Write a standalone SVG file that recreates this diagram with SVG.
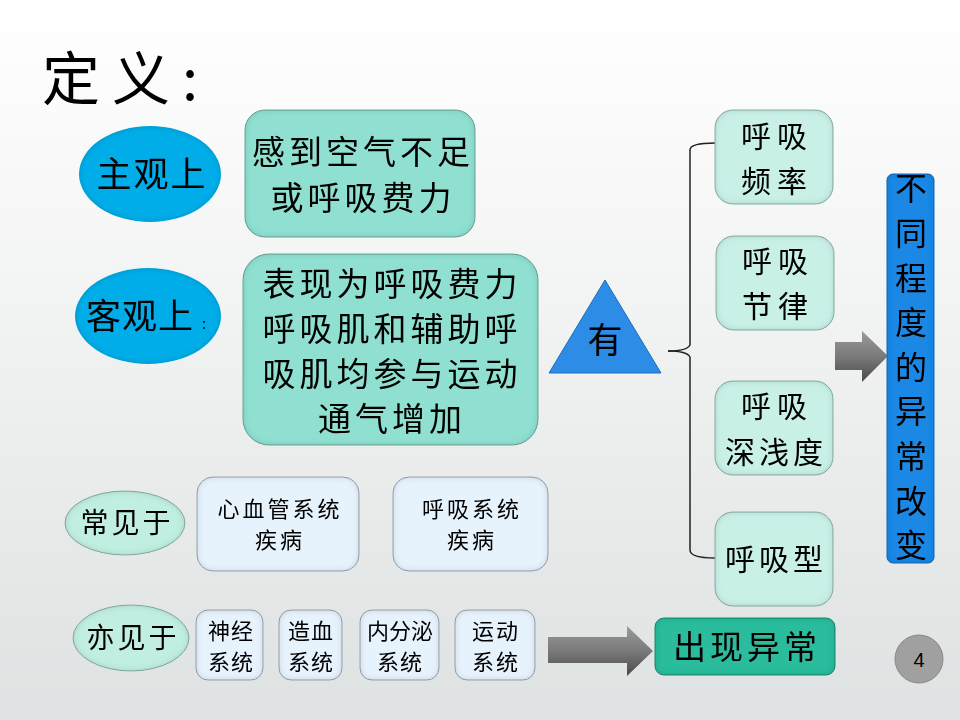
<svg xmlns="http://www.w3.org/2000/svg" width="960" height="720" viewBox="0 0 960 720">
<defs>
  <linearGradient id="bg" x1="0" y1="0" x2="0" y2="1">
    <stop offset="0" stop-color="#ffffff"/>
    <stop offset="0.15" stop-color="#fbfbfb"/>
    <stop offset="1" stop-color="#dfe2e2"/>
  </linearGradient>
  <linearGradient id="arrowG" x1="0" y1="0" x2="0" y2="1">
    <stop offset="0" stop-color="#9a9a9a"/>
    <stop offset="0.5" stop-color="#7a7a7a"/>
    <stop offset="1" stop-color="#4a4a4a"/>
  </linearGradient>
  <filter id="inner" x="-10%" y="-10%" width="120%" height="120%">
    <feGaussianBlur in="SourceAlpha" stdDeviation="3" result="blur"/>
    <feComposite in="SourceAlpha" in2="blur" operator="arithmetic" k2="1" k3="-1" result="edge"/>
    <feFlood flood-color="#000" flood-opacity="0.35"/>
    <feComposite in2="edge" operator="in" result="edgeC"/>
    <feMerge><feMergeNode in="SourceGraphic"/><feMergeNode in="edgeC"/></feMerge>
  </filter>
</defs>
<style>
  text { font-family: "Noto Sans CJK SC", "Liberation Serif", sans-serif; fill: #000; text-anchor: middle; }
  .big { font-size: 33px; letter-spacing: 4px; }
  .rb { font-size: 30px; letter-spacing: 6px; }
  .mid { font-size: 28px; letter-spacing: 3px; }
  .sm { font-size: 22px; letter-spacing: 3px; }
  .vt { font-size: 32px; }
  .teal { fill: #8fe0d0; stroke: #6aa89c; stroke-width: 1; }
  .lt { fill: #c8f0e7; stroke: #8ab0a8; stroke-width: 1; }
  .lb { fill: #e6f2fc; stroke: #9aa6b0; stroke-width: 1; }
  .ell { fill: #c0eee1; stroke: #8ab0a6; stroke-width: 1; }
  .blue { fill: #05ade8; }
  .arrow { fill: url(#arrowG); }
</style>
<rect x="0" y="0" width="960" height="720" fill="url(#bg)"/>

<g id="title">
  <text x="126" y="100" style="font-size:58px;letter-spacing:12px">定义:</text>
</g>

<g id="subjective" filter="url(#inner)">
  <ellipse cx="150" cy="174" rx="71" ry="48" class="blue"/>
  <text x="152" y="187" class="big" style="font-size:35px;letter-spacing:2px">主观上</text>
</g>

<g id="box-subjective" filter="url(#inner)">
  <rect x="245" y="110" width="230" height="127" rx="20" class="teal"/>
  <text x="363" y="164" class="big">感到空气不足</text>
  <text x="363" y="210" class="big">或呼吸费力</text>
</g>

<g id="objective" filter="url(#inner)">
  <ellipse cx="148" cy="316" rx="73" ry="48" class="blue"/>
  <text x="140" y="329" class="big" style="font-size:35px;letter-spacing:1px">客观上</text>
  <text x="204" y="329" style="font-size:14px">:</text>
</g>

<g id="box-objective" filter="url(#inner)">
  <rect x="243" y="254" width="295" height="191" rx="26" class="teal"/>
  <text x="392" y="296" class="big">表现为呼吸费力</text>
  <text x="392" y="341" class="big">呼吸肌和辅助呼</text>
  <text x="392" y="386" class="big">吸肌均参与运动</text>
  <text x="392" y="431" class="big">通气增加</text>
</g>

<g id="triangle-you">
  <polygon points="605,280 549,373 661,373" fill="#2d8de6" stroke="#1d6cc0" stroke-width="1"/>
  <text x="605" y="353" style="font-size:35px">有</text>
</g>

<g id="connectors" fill="none" stroke="#222" stroke-width="1.5">
  <path d="M668,351 Q687,351 690,345 L690,150 Q690,143 715,143"/>
  <path d="M690,357 L690,550 Q690,558 715,558"/>
  <path d="M668,351 Q687,351 690,357"/>
</g>
<g id="connector-arrows">
  <polygon class="arrow" points="835,342 862,342 862,331 888,356 862,382 862,370 835,370"/>
  <polygon class="arrow" points="548,637 627,637 627,626 653,651 627,676 627,663 548,663"/>
</g>

<g id="rate" filter="url(#inner)">
  <rect x="715" y="110" width="118" height="94" rx="18" class="lt"/>
  <text x="777" y="147" class="rb">呼吸</text>
  <text x="777" y="192" class="rb">频率</text>
</g>
<g id="rhythm" filter="url(#inner)">
  <rect x="716" y="236" width="118" height="94" rx="18" class="lt"/>
  <text x="778" y="272" class="rb">呼吸</text>
  <text x="778" y="317" class="rb">节律</text>
</g>
<g id="depth" filter="url(#inner)">
  <rect x="715" y="381" width="118" height="94" rx="18" class="lt"/>
  <text x="777" y="417" class="rb">呼吸</text>
  <text x="776" y="463" class="rb" style="letter-spacing:4px">深浅度</text>
</g>
<g id="pattern" filter="url(#inner)">
  <rect x="715" y="512" width="118" height="94" rx="18" class="lt"/>
  <text x="776" y="570" class="rb" style="letter-spacing:4px">呼吸型</text>
</g>

<g id="degree" filter="url(#inner)">
  <rect x="887" y="174" width="47" height="389" rx="6" fill="#1f88e6" stroke="#1868b8" stroke-width="1"/>
  <text x="911" y="200" class="vt">不</text>
  <text x="911" y="245" class="vt">同</text>
  <text x="911" y="290" class="vt">程</text>
  <text x="911" y="334" class="vt">度</text>
  <text x="911" y="379" class="vt">的</text>
  <text x="911" y="423" class="vt">异</text>
  <text x="911" y="468" class="vt">常</text>
  <text x="911" y="513" class="vt">改</text>
  <text x="911" y="557" class="vt">变</text>
</g>

<g id="common" filter="url(#inner)">
  <ellipse cx="125" cy="523" rx="60" ry="32" class="ell"/>
  <text x="127" y="533" class="mid">常见于</text>
</g>
<g id="cardio" filter="url(#inner)">
  <rect x="197" y="477" width="162" height="94" rx="16" class="lb"/>
  <text x="280" y="517" class="sm">心血管系统</text>
  <text x="280" y="548" class="sm">疾病</text>
</g>
<g id="respiratory" filter="url(#inner)">
  <rect x="393" y="477" width="155" height="94" rx="16" class="lb"/>
  <text x="472" y="517" class="sm">呼吸系统</text>
  <text x="472" y="548" class="sm">疾病</text>
</g>

<g id="also" filter="url(#inner)">
  <ellipse cx="131" cy="638" rx="58" ry="33" class="ell"/>
  <text x="133" y="648" class="mid">亦见于</text>
</g>
<g id="nervous" filter="url(#inner)">
  <rect x="196" y="610" width="67" height="70" rx="12" class="lb"/>
  <text x="231" y="639" class="sm" style="letter-spacing:1px">神经</text>
  <text x="231" y="670" class="sm" style="letter-spacing:1px">系统</text>
</g>
<g id="hemato" filter="url(#inner)">
  <rect x="279" y="610" width="63" height="70" rx="12" class="lb"/>
  <text x="311" y="639" class="sm" style="letter-spacing:1px">造血</text>
  <text x="311" y="670" class="sm" style="letter-spacing:1px">系统</text>
</g>
<g id="endocrine" filter="url(#inner)">
  <rect x="360" y="610" width="79" height="70" rx="12" class="lb"/>
  <text x="400" y="639" class="sm" style="letter-spacing:0px">内分泌</text>
  <text x="400" y="670" class="sm" style="letter-spacing:1px">系统</text>
</g>
<g id="motor" filter="url(#inner)">
  <rect x="455" y="610" width="80" height="70" rx="12" class="lb"/>
  <text x="496" y="639" class="sm" style="letter-spacing:2px">运动</text>
  <text x="496" y="670" class="sm" style="letter-spacing:2px">系统</text>
</g>

<g id="abnormal" filter="url(#inner)">
  <rect x="655" y="618" width="180" height="57" rx="9" fill="#2bbc9c" stroke="#1e8a72" stroke-width="1"/>
  <text x="747" y="659" class="big">出现异常</text>
</g>

<g id="page">
  <circle cx="919" cy="659" r="24" fill="#a0a0a0" stroke="#888" stroke-width="1"/>
  <text x="919" y="667" style="font-family:'Liberation Sans',sans-serif;font-size:20px">4</text>
</g>
</svg>
